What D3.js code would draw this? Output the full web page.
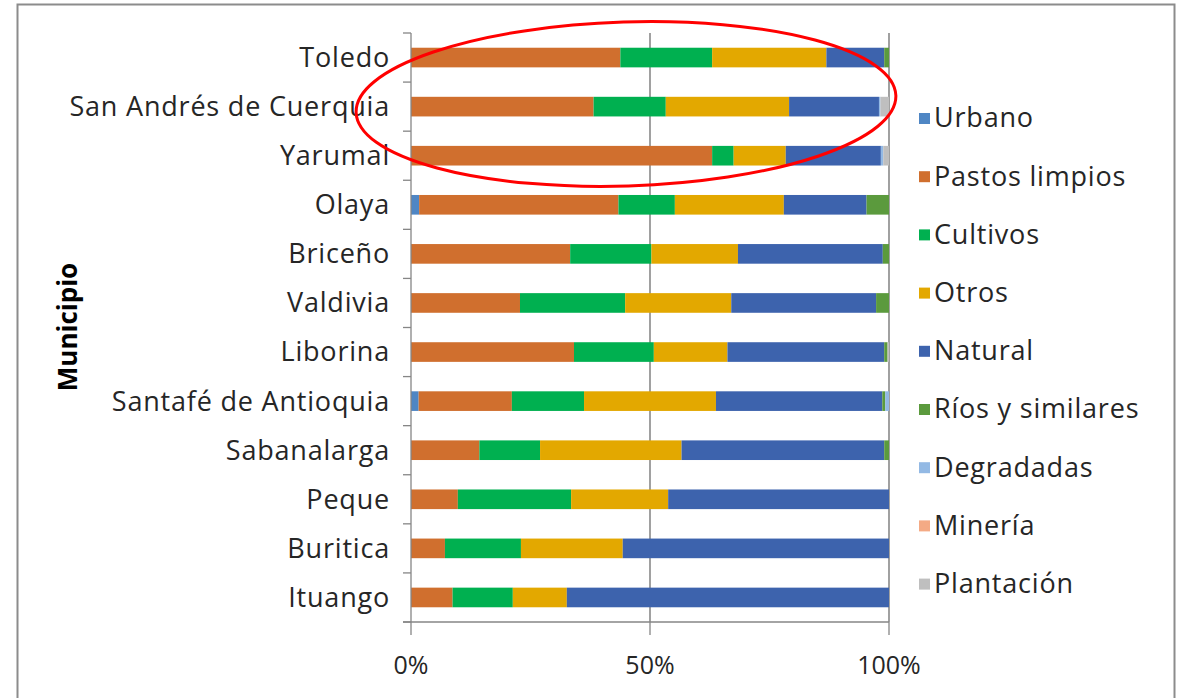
<!DOCTYPE html>
<html>
<head>
<meta charset="utf-8">
<script src="https://cdn.jsdelivr.net/npm/d3@7"></script>
<style>
  body { margin: 0; background: #fff; }
  text { font-family: "Open Sans", Lato, sans-serif; fill: #262626; }
</style>
</head>
<body>
<script>
// categories, top to bottom
var municipios = ['Toledo', 'San Andrés de Cuerquia', 'Yarumal', 'Olaya', 'Briceño', 'Valdivia',
                  'Liborina', 'Santafé de Antioquia', 'Sabanalarga', 'Peque', 'Buritica', 'Ituango'];
var coberturas = ['Urbano', 'Pastos limpios', 'Cultivos', 'Otros', 'Natural',
                  'Ríos y similares', 'Degradadas', 'Minería', 'Plantación'];
var colores = ['#4f86c4', '#d06f2e', '#00b050', '#e3a800', '#3d63ad',
               '#5b9a3d', '#93b9e4', '#f4aa85', '#bfbfbf'];

// share (%) per municipio, one array per cover type
var urbano     = [0,    0,    0,    1.7,  0,    0,    0,    1.6,  0,    0,    0,    0];
var pastos     = [43.8, 38.2, 63.0, 41.7, 33.3, 22.8, 34.1, 19.5, 14.3, 9.8,  7.1,  8.7];
var cultivos   = [19.2, 15.1, 4.5,  11.8, 17.0, 22.0, 16.7, 15.1, 12.7, 23.7, 15.9, 12.6];
var otros      = [23.9, 25.8, 10.9, 22.8, 18.1, 22.2, 15.4, 27.6, 29.6, 20.3, 21.3, 11.3];
var natural    = [12.1, 18.8, 19.9, 17.3, 30.3, 30.3, 32.8, 34.8, 42.4, 46.2, 55.7, 67.4];
var rios       = [1.0,  0,    0,    4.7,  1.3,  2.7,  0.7,  0.6,  1.0,  0,    0,    0];
var degradadas = [0,    0.3,  0.5,  0,    0,    0,    0,    0.8,  0,    0,    0,    0];
var mineria    = [0,    0,    0,    0,    0,    0,    0,    0,    0,    0,    0,    0];
var plantacion = [0,    1.8,  1.2,  0,    0,    0,    0.3,  0,    0,    0,    0,    0];

var series = [urbano, pastos, cultivos, otros, natural, rios, degradadas, mineria, plantacion];
var xTicks = [0, 0.5, 1];

var rows = municipios.map(function(m, i) {
  var r = { municipio: m };
  var total = d3.sum(series, function(s) { return s[i]; });
  coberturas.forEach(function(c, j) { r[c] = series[j][i] / total; });
  return r;
});

var W = 1181, H = 698;
var svg = d3.select('body').append('svg').attr('width', W).attr('height', H);

// outer frame
svg.append('rect')
  .attr('x', 17.5).attr('y', 4.5).attr('width', 1157).attr('height', 720)
  .attr('fill', '#fff').attr('stroke', '#8c8c8c').attr('stroke-width', 2);

var plotL = 411, plotR = 889, plotT = 33, plotB = 622;

var x = d3.scaleLinear().domain([0, 1]).range([plotL, plotR]);
var y = d3.scaleBand().domain(municipios).range([plotT, plotB]).paddingInner(0.6).paddingOuter(0.3);

// gridlines
svg.append('g').selectAll('line')
  .data([0.5, 1]).enter().append('line')
  .attr('x1', function(d) { return x(d); }).attr('x2', function(d) { return x(d); })
  .attr('y1', plotT).attr('y2', plotB)
  .attr('stroke', '#6e6e6e').attr('stroke-width', 1.3);

// bars
var stack = d3.stack().keys(coberturas)(rows);
svg.append('g').selectAll('g')
  .data(stack).enter().append('g')
  .attr('fill', function(d, i) { return colores[i]; })
  .selectAll('rect')
  .data(function(d) { return d; }).enter().append('rect')
  .attr('x', function(d) { return x(d[0]); })
  .attr('width', function(d) { return Math.max(0, x(d[1]) - x(d[0])); })
  .attr('y', function(d) { return y(d.data.municipio); })
  .attr('height', y.bandwidth());

// y axis
var bandStep = (plotB - plotT) / municipios.length;
var yAxis = svg.append('g');
yAxis.append('line')
  .attr('x1', plotL).attr('x2', plotL).attr('y1', plotT).attr('y2', plotB)
  .attr('stroke', '#868686').attr('stroke-width', 1.3);
yAxis.selectAll('line.tick')
  .data(d3.range(municipios.length + 1)).enter().append('line')
  .attr('class', 'tick')
  .attr('x1', plotL - 8).attr('x2', plotL)
  .attr('y1', function(i) { return plotT + i * bandStep; })
  .attr('y2', function(i) { return plotT + i * bandStep; })
  .attr('stroke', '#868686').attr('stroke-width', 1.3);
yAxis.selectAll('text')
  .data(municipios).enter().append('text')
  .attr('x', 390)
  .attr('y', function(d) { return y(d) + y.bandwidth() / 2; })
  .attr('dy', '0.35em')
  .attr('text-anchor', 'end')
  .style('font-size', '27px').style('letter-spacing', '0.8px')
  .text(function(d) { return d; });

// x axis
var xAxis = svg.append('g');
xAxis.append('line')
  .attr('x1', plotL - 8).attr('x2', plotR).attr('y1', plotB).attr('y2', plotB)
  .attr('stroke', '#868686').attr('stroke-width', 1.3);
xAxis.selectAll('line.tick')
  .data(xTicks).enter().append('line')
  .attr('class', 'tick')
  .attr('x1', function(d) { return x(d); }).attr('x2', function(d) { return x(d); })
  .attr('y1', plotB).attr('y2', plotB + 13)
  .attr('stroke', '#868686').attr('stroke-width', 1.3);
xAxis.selectAll('text')
  .data(xTicks).enter().append('text')
  .attr('x', function(d) { return x(d); })
  .attr('y', 674)
  .attr('text-anchor', 'middle')
  .style('font-size', '25px')
  .text(d3.format('.0%'));

// axis title
svg.append('text')
  .attr('transform', 'translate(77,327) rotate(-90)')
  .attr('text-anchor', 'middle')
  .style('font-size', '26px').style('font-weight', 'bold').style('fill', '#000')
  .text('Municipio');

// legend
var legend = svg.append('g').selectAll('g')
  .data(coberturas).enter().append('g')
  .attr('transform', function(d, i) { return 'translate(919,' + (118 + i * 58.2) + ')'; });
legend.append('rect')
  .attr('x', 0).attr('y', -5).attr('width', 11).attr('height', 11)
  .attr('fill', function(d, i) { return colores[i]; });
legend.append('text')
  .attr('x', 15).attr('dy', '0.35em')
  .style('font-size', '27px').style('letter-spacing', '0.8px')
  .text(function(d) { return d; });

// red highlight ellipse
svg.append('ellipse')
  .attr('cx', 626).attr('cy', 104).attr('rx', 270).attr('ry', 82)
  .attr('transform', 'rotate(-1.8,626,104)')
  .attr('fill', 'none').attr('stroke', '#ff0000').attr('stroke-width', 3);
</script>
</body>
</html>
